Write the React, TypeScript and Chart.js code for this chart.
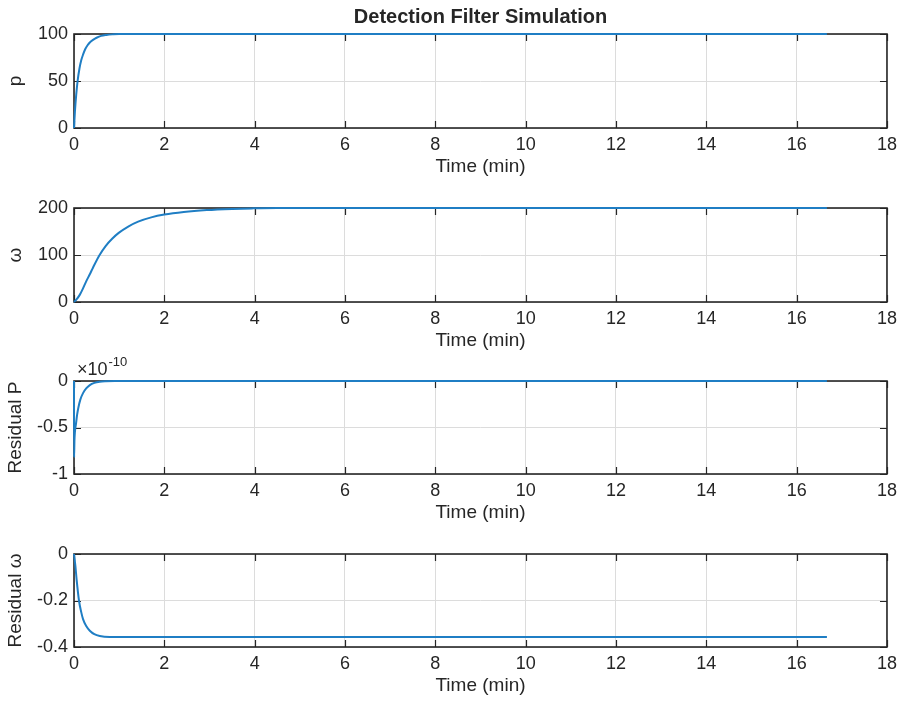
import React, { useEffect, useRef } from 'react';
import { Chart, registerables } from 'chart.js';

Chart.register(...registerables);

const FONT = "'Liberation Sans', Arial, Helvetica, sans-serif";
const TEXT_COLOR = '#262626';
const LINE_COLOR = '#1f7ec4';
const GRID_COLOR = '#dcdcdc';

// ---- Data (time in minutes) ----
const pTime = [0, 0.02, 0.05, 0.08, 0.12, 0.16, 0.2, 0.25, 0.3, 0.35, 0.43, 0.5, 0.6, 0.72, 0.85, 1.0, 1.2, 16.67];
const pValues = [0, 17, 36, 50, 63, 72, 78, 84, 88, 91, 94, 96, 98, 99, 99.6, 100, 100, 100];

const wTime = [0, 0.06, 0.13, 0.2, 0.27, 0.35, 0.42, 0.56, 0.7, 0.85, 0.99, 1.21, 1.42, 1.71, 2.0, 2.43, 2.94, 3.5, 3.94, 4.5, 16.67];
const wValues = [0, 6, 15.7, 29, 44, 59, 73, 99, 119, 135, 147, 161, 171, 180, 186, 191.5, 195.5, 198, 199.2, 200, 200];

// residual P, in units of 1e-10
const rpTime = [0, 0.002, 0.01, 0.02, 0.044, 0.07, 0.095, 0.14, 0.2, 0.27, 0.35, 0.45, 0.57, 0.7, 0.9, 16.67];
const rpValues = [0, -0.82, -0.64, -0.55, -0.46, -0.36, -0.29, -0.2, -0.13, -0.08, -0.044, -0.02, -0.007, -0.002, 0, 0];

const rwTime = [0, 0.03, 0.058, 0.11, 0.16, 0.2, 0.27, 0.35, 0.45, 0.57, 0.79, 1.0, 16.67];
const rwValues = [0, -0.05, -0.11, -0.2, -0.25, -0.28, -0.31, -0.33, -0.345, -0.353, -0.357, -0.357, -0.357];

const X_MIN = 0;
const X_MAX = 18;
const X_STEP = 2;
const X_LABEL = 'Time (min)';
const TITLE = 'Detection Filter Simulation';

type PanelProps = {
  time: number[];
  values: number[];
  yLabel: string;
  yMin: number;
  yMax: number;
  yStep: number;
  areaTop: number;
  areaHeight: number;
  title?: string;
  exponent?: string;
};

const X_AXIS_H = 52;
const Y_AXIS_W = 74;

function padTopFor(p: PanelProps) {
  return p.title ? 34 : 30;
}

function Panel(p: PanelProps) {
  const ref = useRef<HTMLCanvasElement | null>(null);
  const padTop = padTopFor(p);
  const h = padTop + p.areaHeight + X_AXIS_H;

  useEffect(() => {
    if (!ref.current) return;
    const boxPlugin = {
      id: 'matlabBox',
      beforeDatasetsDraw(chart: any) {
        const { ctx, chartArea, scales } = chart;
        const { left, right, top, bottom } = chartArea;
        ctx.save();
        ctx.strokeStyle = TEXT_COLOR;
        ctx.lineWidth = 1.2;
        const tl = 7;
        ctx.beginPath();
        scales.x.ticks.forEach((t: any) => {
          const px = Math.round(scales.x.getPixelForValue(t.value)) + 0.5;
          ctx.moveTo(px, bottom);
          ctx.lineTo(px, bottom - tl);
          ctx.moveTo(px, top);
          ctx.lineTo(px, top + tl);
        });
        scales.y.ticks.forEach((t: any) => {
          const py = Math.round(scales.y.getPixelForValue(t.value)) + 0.5;
          ctx.moveTo(left, py);
          ctx.lineTo(left + tl, py);
          ctx.moveTo(right, py);
          ctx.lineTo(right - tl, py);
        });
        ctx.stroke();
        ctx.lineWidth = 1.6;
        ctx.strokeRect(left, top, right - left, bottom - top);
        ctx.restore();
      },
      afterDraw(chart: any) {
        if (!p.exponent) return;
        const { ctx, chartArea } = chart;
        ctx.save();
        ctx.fillStyle = TEXT_COLOR;
        ctx.textBaseline = 'middle';
        ctx.textAlign = 'left';
        ctx.font = `18px ${FONT}`;
        const base = '\u00d710';
        const x0 = chartArea.left + 3;
        ctx.fillText(base, x0, chartArea.top - 11);
        const w = ctx.measureText(base).width;
        ctx.font = `13px ${FONT}`;
        ctx.fillText(p.exponent, x0 + w + 1, chartArea.top - 19);
        ctx.restore();
      },
    };

    const chart = new Chart(ref.current, {
      type: 'line',
      data: {
        datasets: [
          {
            data: p.time.map((t, i) => ({ x: t, y: p.values[i] })),
            borderColor: LINE_COLOR,
            borderWidth: 2,
            pointRadius: 0,
            fill: false,
            cubicInterpolationMode: 'monotone',
            clip: 4,
          } as any,
        ],
      },
      options: {
        animation: false,
        responsive: false,
        maintainAspectRatio: false,
        devicePixelRatio: 1,
        layout: { padding: { top: p.title ? 0 : padTop, right: 12, left: 0, bottom: 0 } },
        plugins: {
          legend: { display: false },
          tooltip: { enabled: false },
          title: p.title
            ? {
                display: true,
                text: p.title,
                fullSize: false,
                color: TEXT_COLOR,
                font: { family: FONT, size: 20, weight: 'bold', lineHeight: 1.2 },
                padding: { top: 5, bottom: 5 },
              }
            : { display: false },
        },
        scales: {
          x: {
            type: 'linear',
            min: X_MIN,
            max: X_MAX,
            afterFit: (s: any) => {
              s.height = X_AXIS_H;
            },
            ticks: {
              stepSize: X_STEP,
              autoSkip: false,
              maxRotation: 0,
              padding: 6,
              color: TEXT_COLOR,
              font: { family: FONT, size: 18 },
            },
            grid: { color: GRID_COLOR, lineWidth: 1, drawTicks: false },
            border: { display: false },
            title: {
              display: true,
              text: X_LABEL,
              color: TEXT_COLOR,
              font: { family: FONT, size: 19 },
              padding: { top: 0, bottom: 2 },
            },
          },
          y: {
            type: 'linear',
            min: p.yMin,
            max: p.yMax,
            afterFit: (s: any) => {
              s.width = Y_AXIS_W;
            },
            ticks: {
              stepSize: p.yStep,
              autoSkip: false,
              padding: 6,
              color: TEXT_COLOR,
              font: { family: FONT, size: 18 },
              callback: (v: any) => String(Math.round(Number(v) * 1000) / 1000),
            },
            grid: { color: GRID_COLOR, lineWidth: 1, drawTicks: false },
            border: { display: false },
            title: {
              display: true,
              text: p.yLabel,
              color: TEXT_COLOR,
              font: { family: FONT, size: 19 },
              padding: { top: 4, bottom: 0 },
            },
          },
        },
      } as any,
      plugins: [boxPlugin],
    });
    return () => chart.destroy();
  }, []);

  return (
    <canvas
      ref={ref}
      width={903}
      height={h}
      style={{ position: 'absolute', left: 0, top: p.areaTop - padTop, width: 903, height: h, display: 'block' }}
    />
  );
}

export default function App() {
  return (
    <div style={{ position: 'absolute', left: 0, top: 0, width: 903, height: 702, background: '#ffffff', overflow: 'hidden' }}>
      <Panel time={pTime} values={pValues} yLabel="p" yMin={0} yMax={100} yStep={50} areaTop={34} areaHeight={94} title={TITLE} />
      <Panel time={wTime} values={wValues} yLabel={'\u03c9'} yMin={0} yMax={200} yStep={100} areaTop={208} areaHeight={94} />
      <Panel time={rpTime} values={rpValues} yLabel="Residual P" yMin={-1} yMax={0} yStep={0.5} areaTop={381} areaHeight={93} exponent="-10" />
      <Panel time={rwTime} values={rwValues} yLabel={'Residual \u03c9'} yMin={-0.4} yMax={0} yStep={0.2} areaTop={554} areaHeight={93} />
    </div>
  );
}
